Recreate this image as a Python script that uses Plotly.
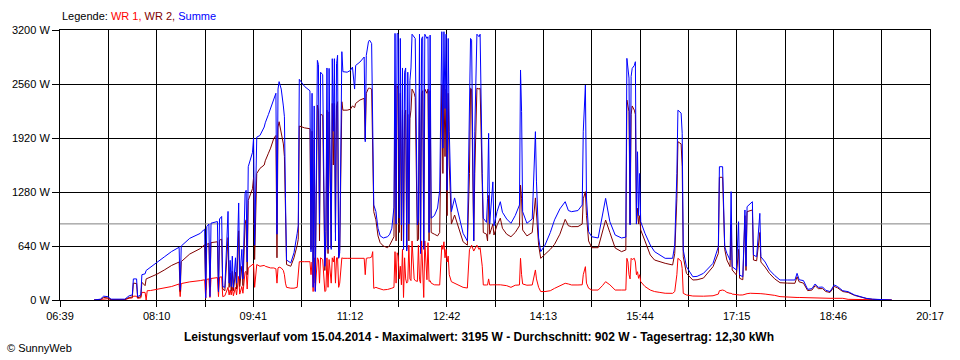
import plotly.graph_objects as go

# ---------------- data ----------------
times = ["07:11","07:17","07:20","07:24","07:27","07:40","07:44","07:47","07:48","07:51","07:52","07:55","07:56","07:59","08:00","08:01","08:04","08:10","08:17","08:24","08:31","08:32","08:33","08:41","08:51","08:54",
"08:55","08:56","08:57","08:59","09:00","09:01","09:07","09:08","09:09","09:11","09:12","09:14","09:17","09:18","09:19","09:20","09:21","09:22","09:24","09:25","09:27","09:28","09:30","09:31","09:33","09:34","09:35","09:36","09:38","09:40","09:41","09:42","09:44",
"09:47","09:51","09:52","09:55","09:57","10:00","10:02","10:03","10:04","10:05","10:07","10:09","10:10","10:11","10:12","10:16","10:19","10:22","10:23","10:24","10:29","10:34",
"10:35","10:36","10:37","10:38","10:39","10:41","10:42","10:43","10:44","10:46","10:48","10:49","10:50","10:51","10:52","10:54","10:55","10:56","10:57","10:58","10:59","11:00","11:01","11:02","11:04","11:05","11:09","11:12","11:14","11:16","11:17","11:21","11:25","11:26","11:27","11:29","11:30","11:32","11:33","11:34","11:36","11:38","11:40","11:43","11:47","11:49","11:51","11:53",
"11:54","11:55","11:56","11:57","11:58","11:59","12:00","12:01","12:02","12:03","12:04","12:05","12:06","12:07","12:08","12:09","12:10","12:12","12:13","12:15","12:16","12:17","12:18","12:19","12:20","12:21","12:22","12:24","12:25","12:26","12:27","12:28","12:31","12:34","12:36",
"12:38","12:39","12:40","12:41","12:42","12:43","12:44","12:45","12:47","12:50","12:55","12:58","13:02","13:04","13:05","13:06","13:08","13:09","13:11","13:13","13:14","13:16","13:17","13:20","13:21","13:22","13:23","13:26","13:27","13:30","13:33","13:35","13:39","13:43","13:47","13:51","13:52","13:53","13:54","13:58","14:03","14:06","14:07","14:09","14:11","14:15","14:20","14:24","14:29","14:34","14:37","14:40","14:46","14:50","14:51","14:53","14:54","14:56","14:59","15:05","15:09","15:12","15:16","15:21","15:27","15:31",
"15:32","15:33","15:34","15:35","15:36","15:37","15:39","15:40","15:41","15:42","15:43","15:44","15:45","15:49","15:54","15:58","16:03","16:08","16:15","16:17","16:19","16:20","16:23","16:24","16:25","16:28","16:34","16:38","16:44","16:53","16:58","16:59","17:02","17:04","17:06","17:09","17:10","17:11","17:15","17:17","17:18","17:21","17:23","17:24","17:25","17:28","17:30","17:31","17:34","17:37","17:38","17:42","17:46","17:51","17:56",
"18:03","18:10","18:12","18:14","18:18","18:22","18:26","18:29","18:32","18:36","18:39","18:43","18:47","18:50","18:55","19:00","19:06","19:11","19:17","19:23","19:35","19:41"]

summe = [0,10,45,40,10,10,50,60,250,250,40,60,300,310,350,360,380,442,510,575,625,120,640,731,790,830,
840,25,870,900,40,910,930,100,960,990,160,150,1050,200,470,160,520,150,500,200,1150,250,600,250,1260,1300,450,1580,1660,1750,1920,650,1930,
1950,2050,2100,2200,2275,2394,2450,780,2500,2588,2500,2300,2172,1200,474,440,560,790,880,2615,2530,2480,
570,2450,150,2300,100,2840,2790,900,2700,2670,400,810,2750,600,2745,600,2860,2000,2860,700,2800,2900,494,560,2943,2706,2700,2720,2760,2500,2780,2820,2880,1876,2900,3060,3080,3040,2074,1126,1050,850,760,735,750,780,850,1100,
3160,900,3160,3150,970,3100,890,2750,600,2700,2750,580,2700,900,2600,2750,3150,3120,3100,889,950,3150,550,3100,3120,600,3150,3100,3120,800,3140,970,1000,1090,1300,
3180,1800,3180,2270,3150,1300,3100,2000,1047,1210,950,790,700,2000,3100,3080,700,2000,3150,3120,3150,1500,970,920,1200,1975,900,1400,880,1050,1165,1040,960,909,1000,1126,2726,2232,1047,909,960,1995,1400,735,573,650,800,950,1080,1165,1060,1047,1060,1126,2000,2548,1209,810,750,735,1000,1205,928,770,735,745,
2864,2750,2630,889,2650,2745,2780,2824,900,1757,1000,1500,928,790,652,573,530,494,494,652,1500,2250,2215,1975,593,395,276,280,316,435,632,1580,1580,632,553,474,1284,395,356,928,296,276,1067,400,1106,1140,1165,533,513,1027,513,450,356,290,237,
237,237,316,240,230,126,135,190,150,154,115,100,178,160,110,99,60,40,20,10,5,0]

wr2 = [0,5,30,25,5,5,30,35,200,195,25,40,210,170,250,255,265,305,355,410,450,100,455,545,610,650,
655,120,660,670,150,680,690,100,710,720,130,110,740,150,320,110,340,110,330,130,820,160,400,170,900,950,300,1180,1250,1320,1450,480,1500,
1560,1600,1650,1740,1800,1915,1950,500,2050,2113,2000,1850,1700,900,420,400,500,650,720,2062,2040,2030,
600,2000,450,1900,200,2310,2250,700,2200,2190,350,650,2250,550,2230,620,2330,1600,2330,800,2300,2350,500,600,2350,2250,2250,2260,2300,2280,2330,2370,2390,1900,2450,2510,2510,2500,1500,1047,950,760,680,640,620,650,700,750,
2550,700,2540,2500,800,2450,700,2250,600,2200,2250,600,2200,700,2150,2250,2500,2450,2400,700,720,2500,600,2450,2480,640,2500,2450,2500,700,2480,800,780,760,800,
2550,1500,2550,1700,2500,1000,2450,1600,900,1007,800,690,650,1500,2510,2500,700,1500,2510,2500,2510,1300,800,780,700,1240,780,900,770,890,970,850,780,750,800,880,1363,1200,830,760,800,1210,1000,650,494,540,600,660,780,956,880,869,870,900,1200,1284,1000,700,620,620,800,948,800,616,573,593,
2370,2300,2232,900,2200,2300,2250,2200,900,1087,900,1000,830,700,533,474,450,435,415,550,1200,1876,1850,1580,513,316,237,240,260,395,553,1454,1454,600,474,395,900,356,296,600,257,240,1000,350,1047,1060,1067,474,465,800,450,390,316,250,205,
200,198,276,215,200,111,118,170,135,135,100,90,160,145,100,90,55,35,18,8,4,0]

wr1 = [0,5,15,15,5,5,20,25,45,45,20,25,90,90,0,110,112,125,140,160,190,40,195,215,230,240,
240,20,245,250,30,255,265,40,270,275,40,50,150,60,120,60,150,50,150,60,280,70,160,80,330,340,130,380,400,420,430,150,420,
400,410,400,390,380,380,370,200,380,390,380,350,300,200,150,140,140,150,300,454,454,454,
300,450,100,500,110,500,480,200,500,480,100,110,500,150,480,200,500,450,520,200,500,500,150,200,500,494,494,494,494,494,494,494,494,300,494,500,500,510,573,138,150,140,130,120,125,130,140,150,
573,200,560,520,250,400,180,600,30,500,250,200,220,650,250,230,700,250,230,220,650,240,200,700,250,30,700,240,680,220,230,200,180,175,178,
650,600,690,500,600,450,520,300,217,200,170,150,142,600,620,650,580,600,650,600,620,400,178,178,178,250,178,180,178,180,180,178,170,150,175,178,494,300,190,175,178,356,250,150,100,100,110,138,165,198,190,178,178,180,300,395,200,140,118,118,170,217,180,118,118,118,
494,450,300,250,494,480,494,450,300,335,257,300,217,160,118,100,90,80,79,100,300,494,460,375,79,60,47,45,45,50,70,110,118,110,90,79,80,70,60,60,59,60,70,70,75,80,80,78,78,75,75,70,67,55,40,
32,30,30,30,28,22,20,20,20,20,20,20,20,20,20,8,8,8,7,5,2,0]

average_w = 902
x_tick_labels = ["06:39", "08:10", "09:41", "11:12", "12:42", "14:13", "15:44", "17:15", "18:46", "20:17"]
y_tick_values = [0, 640, 1280, 1920, 2560, 3200]
y_tick_labels = ["0 W", "640 W", "1280 W", "1920 W", "2560 W", "3200 W"]
title_text = "Leistungsverlauf vom 15.04.2014 - Maximalwert: 3195 W - Durchschnitt: 902 W - Tagesertrag: 12,30 kWh"

# ---------------- helpers ----------------
def to_min(s):
    h, m = s.split(":")
    return int(h) * 60 + int(m)

x = [to_min(t) for t in times]
x0 = to_min(x_tick_labels[0])
x1 = to_min(x_tick_labels[-1])
n_major = len(x_tick_labels) - 1
n_grid = n_major * 2
grid_vals = [x0 + (x1 - x0) * i / n_grid for i in range(n_grid + 1)]
grid_text = [x_tick_labels[i // 2] if i % 2 == 0 else "" for i in range(n_grid + 1)]

FONT = "Liberation Sans, Arial, sans-serif"

fig = go.Figure()
fig.add_trace(go.Scatter(x=x, y=wr1, mode="lines", name="WR 1",
                         line=dict(color="#FF0000", width=1), hoverinfo="skip"))
fig.add_trace(go.Scatter(x=x, y=wr2, mode="lines", name="WR 2",
                         line=dict(color="#800000", width=1), hoverinfo="skip"))
fig.add_trace(go.Scatter(x=x, y=summe, mode="lines", name="Summe",
                         line=dict(color="#0000FF", width=1), hoverinfo="skip"))

fig.add_shape(type="line", xref="x", yref="y", x0=x0, x1=x1, y0=average_w, y1=average_w,
              line=dict(color="#808080", width=1), layer="between")

fig.update_layout(
    width=960, height=360,
    margin=dict(l=60, r=30, t=30, b=60),
    paper_bgcolor="white", plot_bgcolor="white",
    showlegend=False,
    font=dict(family=FONT, size=11, color="black"),
    xaxis=dict(range=[x0, x1], tickmode="array", tickvals=grid_vals, ticktext=grid_text,
               showgrid=True, gridcolor="black", gridwidth=1,
               showline=True, linecolor="black", linewidth=1, mirror=True,
               ticks="outside", ticklen=6, tickcolor="black", tickwidth=1,
               zeroline=False, tickfont=dict(family=FONT, size=11, color="black")),
    yaxis=dict(range=[0, 3200], tickmode="array", tickvals=y_tick_values, ticktext=y_tick_labels,
               showgrid=True, gridcolor="black", gridwidth=1,
               showline=True, linecolor="black", linewidth=1, mirror=True,
               ticks="outside", ticklen=7, tickcolor="black", tickwidth=1,
               zeroline=False, tickfont=dict(family=FONT, size=11, color="black")),
)

fig.add_annotation(xref="paper", yref="paper", x=0, y=1 + 14 / 270, xanchor="left", yanchor="middle",
                   showarrow=False, font=dict(family=FONT, size=11),
                   text="<span style='color:black'>Legende: </span><span style='color:#FF0000'>WR 1, </span>"
                        "<span style='color:#800000'>WR 2, </span><span style='color:#0000FF'>Summe</span>")
fig.add_annotation(xref="paper", yref="paper", x=(479 - 60) / 870, y=-37 / 270, xanchor="center", yanchor="middle",
                   showarrow=False, font=dict(family=FONT, size=12, color="black"),
                   text="<b>" + title_text + "</b>")
fig.add_annotation(xref="paper", yref="paper", x=-55 / 870, y=-48 / 270, xanchor="left", yanchor="middle",
                   showarrow=False, font=dict(family=FONT, size=11, color="black"),
                   text="© SunnyWeb")

fig.write_html("out.html", config={"displayModeBar": False},
               post_script="document.body.style.margin='0px';")
